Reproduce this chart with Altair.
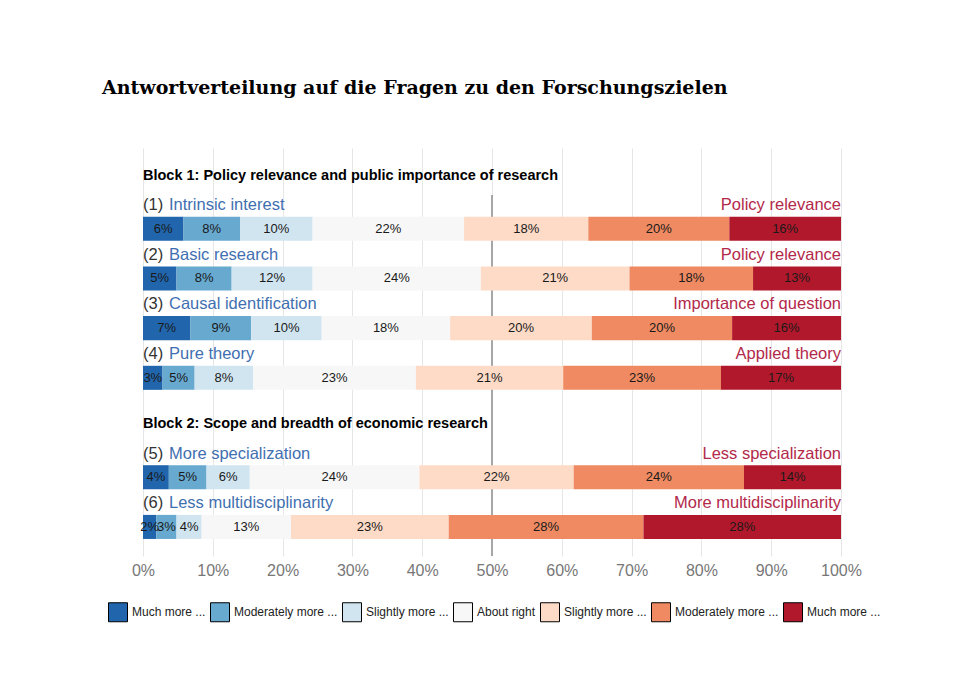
import altair as alt
import pandas as pd

# ---------------- data ----------------
chart_title = "Antwortverteilung auf die Fragen zu den Forschungszielen"
blocks = [
    "Block 1: Policy relevance and public importance of research",
    "Block 2: Scope and breadth of economic research",
]
question_numbers = ["(1)", "(2)", "(3)", "(4)", "(5)", "(6)"]
left_labels = [
    "Intrinsic interest",
    "Basic research",
    "Causal identification",
    "Pure theory",
    "More specialization",
    "Less multidisciplinarity",
]
right_labels = [
    "Policy relevance",
    "Policy relevance",
    "Importance of question",
    "Applied theory",
    "Less specialization",
    "More multidisciplinarity",
]
question_block = [0, 0, 0, 0, 1, 1]
categories = [
    "Much more ...",
    "Moderately more ...",
    "Slightly more ...",
    "About right",
    "Slightly more ...",
    "Moderately more ...",
    "Much more ...",
]
colors = ["#2166ac", "#67a9cf", "#d1e5f0", "#f7f7f7", "#fddbc7", "#ef8a62", "#b2182b"]
# shares in percent, per question, in category order
share_q1 = [5.8, 8.1, 10.4, 21.7, 17.8, 20.2, 16.0]
share_q2 = [4.8, 7.9, 11.6, 24.1, 21.3, 17.7, 12.6]
share_q3 = [6.8, 8.7, 10.1, 18.4, 20.3, 20.1, 15.6]
share_q4 = [2.8, 4.6, 8.4, 23.3, 21.1, 22.6, 17.2]
share_q5 = [3.7, 5.4, 6.2, 24.3, 22.1, 24.4, 13.9]
share_q6 = [1.9, 2.9, 3.6, 12.8, 22.6, 27.9, 28.3]
shares = [share_q1, share_q2, share_q3, share_q4, share_q5, share_q6]
tick_values = [0, 0.1, 0.2, 0.3, 0.4, 0.5, 0.6, 0.7, 0.8, 0.9, 1.0]

# ---------------- layout (row units) ----------------
Y_TOP, Y_BOTTOM = -1.624, 6.585
BAR_HALF = 0.242
LABEL_OFF = 0.477
HEADER_OFF = 1.07
MID_RULE_TOP = -0.68
FONT = "Liberation Sans"

slots = [i + question_block[i] for i in range(len(shares))]

bar_rows = []
for qi, vals in enumerate(shares):
    start = 0.0
    for ci, v in enumerate(vals):
        bar_rows.append(dict(
            cat=f"{ci + 1} {categories[ci]}",
            start=start / 100, end=(start + v) / 100, mid=(start + v / 2) / 100,
            label=f"{v:.0f}%",
            y=slots[qi] - BAR_HALF, y2=slots[qi] + BAR_HALF,
        ))
        start += v
bars_df = pd.DataFrame(bar_rows)

lab_df = pd.DataFrame(dict(
    num=question_numbers, left=left_labels, right=right_labels,
    x0=[0.0] * 6, x1=[1.0] * 6,
    y=[s - LABEL_OFF for s in slots],
))

first_slot = [slots[question_block.index(b)] for b in range(len(blocks))]
head_df = pd.DataFrame(dict(text=blocks, x=[0.0, 0.0], y=[f - HEADER_OFF for f in first_slot]))

mid_df = pd.DataFrame(dict(x=[0.5], y=[MID_RULE_TOP], y2=[Y_BOTTOM]))

xscale = alt.Scale(domain=[0, 1], nice=False, zero=False)
yscale = alt.Scale(domain=[Y_TOP, Y_BOTTOM], reverse=True, nice=False, zero=False)
xaxis = alt.Axis(values=tick_values, format=".0%", grid=True, gridColor="#e6e6e6",
                 domain=False, ticks=False, labelFont=FONT, labelFontSize=16,
                 labelColor="#777777", labelPadding=6, labelFlush=False,
                 labelOverlap=False, title=None)

mid_rule = alt.Chart(mid_df).mark_rule(color="#a6a6a6", strokeWidth=2).encode(
    x=alt.X("x:Q", scale=xscale, axis=xaxis),
    y=alt.Y("y:Q", scale=yscale, axis=None),
    y2="y2:Q",
)

keys = [f"{i + 1} {c}" for i, c in enumerate(categories)]
bars = alt.Chart(bars_df).mark_bar().encode(
    x=alt.X("start:Q", scale=xscale, axis=xaxis),
    x2="end:Q",
    y=alt.Y("y:Q", scale=yscale, axis=None),
    y2="y2:Q",
    color=alt.Color("cat:N", scale=alt.Scale(domain=keys, range=colors),
                    legend=alt.Legend(
                        orient="none", legendX=-35, legendY=454, direction="horizontal",
                        title=None, symbolType="square", symbolSize=361,
                        symbolStrokeColor="black", symbolStrokeWidth=1,
                        labelFont=FONT, labelFontSize=12, labelColor="#222222",
                        columnPadding=2, labelOffset=4,
                        labelExpr="substring(datum.label, 2)")),
)

bar_text = alt.Chart(bars_df).mark_text(font=FONT, fontSize=13, color="#1a1a1a",
                                        baseline="middle").encode(
    x=alt.X("mid:Q", scale=xscale, axis=xaxis),
    y=alt.Y("mid_y:Q", scale=yscale, axis=None),
    text="label:N",
).transform_calculate(mid_y="(datum.y + datum.y2) / 2")

num_text = alt.Chart(lab_df).mark_text(font=FONT, fontSize=16.5, color="#333333",
                                       align="left", baseline="middle").encode(
    x=alt.X("x0:Q", scale=xscale, axis=xaxis),
    y=alt.Y("y:Q", scale=yscale, axis=None),
    text="num:N",
)
left_text = alt.Chart(lab_df).mark_text(font=FONT, fontSize=16.5, color="#3f6fb0",
                                        align="left", baseline="middle", dx=26).encode(
    x=alt.X("x0:Q", scale=xscale, axis=xaxis),
    y=alt.Y("y:Q", scale=yscale, axis=None),
    text="left:N",
)
right_text = alt.Chart(lab_df).mark_text(font=FONT, fontSize=16.5, color="#b3294a",
                                         align="right", baseline="middle").encode(
    x=alt.X("x1:Q", scale=xscale, axis=xaxis),
    y=alt.Y("y:Q", scale=yscale, axis=None),
    text="right:N",
)
head_text = alt.Chart(head_df).mark_text(font=FONT, fontSize=14.5, fontWeight="bold",
                                         color="#000000", align="left",
                                         baseline="middle").encode(
    x=alt.X("x:Q", scale=xscale, axis=xaxis),
    y=alt.Y("y:Q", scale=yscale, axis=None),
    text="text:N",
)

chart = alt.layer(mid_rule, bars, bar_text, num_text, left_text, right_text, head_text).properties(
    width=698,
    height=408,
    autosize=alt.AutoSizeParams(type="none"),
    padding={"left": 135, "top": 140, "right": 100, "bottom": 120},
    title=alt.TitleParams(text=chart_title, anchor="start", frame="group", dx=-41, offset=50,
                          font="DejaVu Serif", fontSize=19, fontWeight="bold", color="#000000"),
).configure_view(stroke="transparent")

chart.save("out.html", embed_options={"renderer": "svg", "actions": False})
